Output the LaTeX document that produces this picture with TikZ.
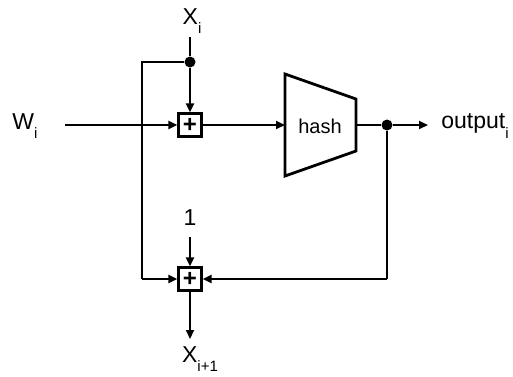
\documentclass[tikz,border=0pt]{standalone}
\usepackage{fontspec}
\setmainfont{Liberation Sans}
\usetikzlibrary{arrows.meta}
\newcommand{\sbi}[1]{\raisebox{-0.4em}{\fontsize{15}{15}\selectfont #1}}
\begin{document}
\begin{tikzpicture}[x=1pt,y=-1pt,
  wire/.style={line width=2pt},
  arr/.style={wire,-{Triangle[length=9pt,width=8pt]}},
  adder/.style={draw,line width=2.2pt,minimum size=23pt,inner sep=0pt,font=\fontsize{24}{24}\selectfont\bfseries},
  lbl/.style={inner sep=0pt,font=\fontsize{23}{23}\selectfont},
  dotc/.style={circle,fill=black,inner sep=0pt,minimum size=11pt}]
\useasboundingbox (0,0) rectangle (513,376);
% nodes
\node[adder] (p1) at (190,125) {+};
\node[adder] (p2) at (190,279) {+};
\node[lbl] (xi) at (192,21) {X\sbi{i}};
\node[lbl] (wi) at (25,126) {W\sbi{i}};
\node[lbl] (out) at (475,126) {output\sbi{i}};
\node[lbl] (one) at (190,218) {1};
\node[lbl] (xn) at (200,359) {X\sbi{i+1}};
\node[dotc] (d1) at (190,62) {};
\node[dotc] (d2) at (387,125) {};
\coordinate (xtop) at (190,37);
\coordinate (wst) at (65,125);
\coordinate (hin) at (285,125);
\coordinate (hout) at (356,125);
\coordinate (oend) at (428,125);
\coordinate (lt) at (142,62);
\coordinate (lb) at (142,279);
\coordinate (rb) at (387,279);
\coordinate (onel) at (190,237);
\coordinate (xnend) at (190,339);
% hash block
\draw[line width=2.8pt,line join=miter] (285,74) -- (356,99) -- (356,151) -- (285,176) -- cycle;
\node[lbl] (hash) at (320,126) {\fontsize{20}{20}\selectfont hash};
% connectors
\draw[wire] (xtop) -- (d1);
\draw[arr] (d1) -- (p1.north);
\draw[arr] (wst) -- (p1.west);
\draw[arr] (p1.east) -- (hin);
\draw[wire] (hout) -- (d2);
\draw[arr] (d2) -- (oend);
\draw[wire] (d1) -- (lt) -- (lb);
\draw[arr] (lb) -- (p2.west);
\draw[wire] (d2) -- (rb);
\draw[arr] (rb) -- (p2.east);
\draw[arr] (onel) -- (p2.north);
\draw[arr] (p2.south) -- (xnend);
\end{tikzpicture}
\end{document}
